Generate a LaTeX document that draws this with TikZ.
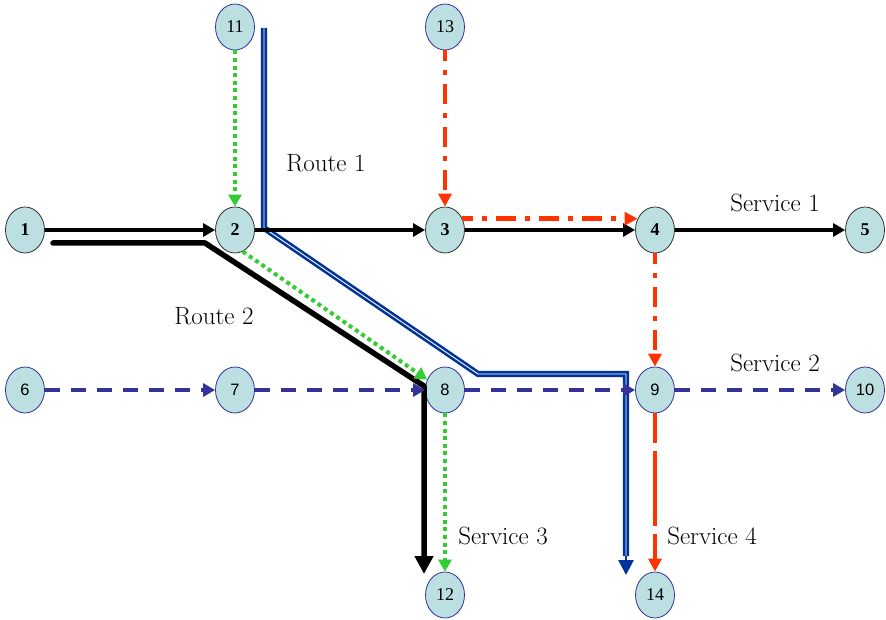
\documentclass[tikz,border=0pt]{standalone}
\usepackage{fontspec}
\newfontfamily\sansnum{Liberation Sans}
\newfontfamily\serifnum{Liberation Serif}
\usetikzlibrary{shapes.geometric,arrows.meta}

\definecolor{stationfill}{RGB}{188,224,226}
\definecolor{edgedark}{RGB}{50,50,50}
\definecolor{edgeblue}{RGB}{51,51,153}
\definecolor{routeblue}{RGB}{0,51,153}
\definecolor{navydash}{RGB}{51,51,153}
\definecolor{svcgreen}{RGB}{51,204,51}
\definecolor{svcred}{RGB}{255,51,0}

\tikzset{
  station/.style={ellipse, fill=stationfill, minimum width=39pt, minimum height=46pt,
    inner sep=0pt, line width=0.8pt},
  darkstn/.style={station, draw=edgedark, font=\fontsize{18}{18}\selectfont\serifnum\bfseries},
  bluestn/.style={station, draw=edgeblue, font=\fontsize{18}{18}\selectfont\serifnum},
  sansstn/.style={station, draw=edgeblue, font=\fontsize{16.5}{16.5}\selectfont\sansnum},
  lbl/.style={font=\fontsize{25}{25}\selectfont, inner sep=0pt, anchor=base},
  svcblack/.style={draw=black, line width=3.6pt, -{Triangle[length=12pt,width=13pt]}},
  svcgreenline/.style={draw=svcgreen, line width=4pt, dash pattern=on 4pt off 3.6pt,
    -{Triangle[length=12pt,width=13pt]}},
  svcdashdot/.style={draw=svcred, line width=4.5pt, dash pattern=on 20pt off 9pt on 5pt off 9pt,
    dash phase=9pt, -{Triangle[length=13pt,width=13pt]}},
  svclongdash/.style={draw=svcred, line width=4.5pt, dash pattern=on 75pt off 8pt,
    dash phase=45pt, -{Triangle[length=13pt,width=13pt]}},
  svcnavy/.style={draw=navydash, line width=4pt, dash pattern=on 15pt off 11pt,
    -{Triangle[length=12pt,width=13pt]}},
  routeone/.style={draw=routeblue, line width=2.6pt, double=white, double distance=0.9pt,
    line join=miter},
  routeonetip/.style={draw=routeblue, line width=2.8pt, -{Triangle[length=15pt,width=15pt]}},
  routetwo/.style={draw=black, line width=5.5pt, line cap=round, line join=round,
    -{Triangle[length=18pt,width=18pt]}}
}

\begin{document}
\begin{tikzpicture}[x=1pt, y=-1pt]
\useasboundingbox (0,0) rectangle (886,620);

% stations
\node[darkstn] (n1) at (25,230) {1};
\node[darkstn] (n2) at (235,230) {2};
\node[darkstn] (n3) at (445,230) {3};
\node[darkstn] (n4) at (655,230) {4};
\node[darkstn] (n5) at (865,230) {5};
\node[sansstn] (n6) at (25,390) {6};
\node[sansstn] (n7) at (235,390) {7};
\node[sansstn] (n8) at (445,390) {8};
\node[sansstn] (n9) at (655,390) {9};
\node[sansstn] (n10) at (865,390) {10};
\node[bluestn] (n11) at (235,27) {11};
\node[bluestn] (n13) at (445,27) {13};
\node[bluestn] (n12) at (445,595) {12};
\node[bluestn] (n14) at (655,595) {14};

% route 1 (double blue line)
\coordinate (r1a) at (264,28);
\coordinate (r1b) at (264,228);
\coordinate (r1c) at (478,374);
\coordinate (r1d) at (626,374);
\coordinate (r1e) at (626,575);
\coordinate (r1f) at (626,556);
\draw[routeone] (r1a) -- (r1b) -- (r1c) -- (r1d) -- (r1f);
\draw[routeonetip] (r1f) -- (r1e);

% route 2 (thick black line)
\coordinate (r2a) at (53,243);
\coordinate (r2b) at (205,243);
\coordinate (r2c) at (424,386);
\coordinate (r2d) at (424,574);
\draw[routetwo] (r2a) -- (r2b) -- (r2c) -- (r2d);

% service 1
\draw[svcblack] (n1) -- (n2);
\draw[svcblack] (n2) -- (n3);
\draw[svcblack] (n3) -- (n4);
\draw[svcblack] (n4) -- (n5);

% service 2
\draw[svcnavy] (n6) -- (n7);
\draw[svcnavy] (n7) -- (n8);
\draw[svcnavy] (n8) -- (n9);
\draw[svcnavy] (n9) -- (n10);

% service 3
\draw[svcgreenline] (n11) -- (n2);
\draw[svcgreenline] (n2.-70) -- (n8.150);
\draw[svcgreenline] (n8) -- (n12);

% service 4
\draw[svcdashdot] (n13) -- (n3);
\draw[svcdashdot] (n3.33) -- (n4.147);
\draw[svcdashdot] (n4) -- (n9);
\draw[svclongdash] (n9) -- (n14);

% labels
\node[lbl] (lr1) at (326,172) {Route 1};
\node[lbl] (lr2) at (214,324) {Route 2};
\node[lbl] (ls1) at (775,212) {Service 1};
\node[lbl] (ls2) at (775,371) {Service 2};
\node[lbl] (ls3) at (503,544) {Service 3};
\node[lbl] (ls4) at (712,544) {Service 4};
\end{tikzpicture}
\end{document}
